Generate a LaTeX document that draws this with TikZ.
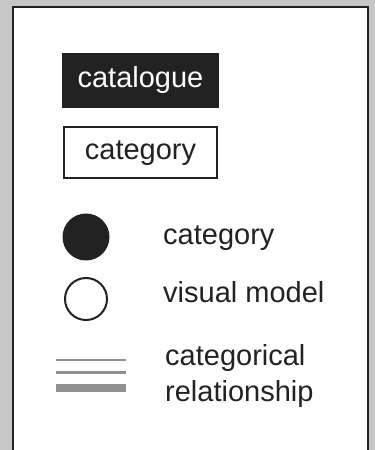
\documentclass[tikz,border=0pt]{standalone}
\usepackage{fontspec}
\setmainfont{Liberation Sans}
\usetikzlibrary{positioning}
\definecolor{ink}{HTML}{222222}
\definecolor{backdrop}{HTML}{C6C6C6}
\definecolor{relgray}{HTML}{909090}

\begin{document}
\begin{tikzpicture}[
    x=1pt, y=1pt,
    font=\fontsize{29}{36}\selectfont,
    box/.style={rectangle, minimum width=157pt, minimum height=55pt, inner sep=0pt, text=ink},
    dot/.style={circle, inner sep=0pt, ink},
    legend/.style={anchor=base west, text=ink, align=left, inner sep=0pt}
]
\useasboundingbox (0,0) rectangle (375,450);

% Panel
\fill[backdrop] (0,0) rectangle (375,450);
\fill[white] (12.5,0) rectangle (368,442.5);
\draw[ink, line width=2pt] (12.5,0) |- (368,442.5) -- (368,0);

% Boxes
\node[box, fill=ink, text=white] (catalogue) at (140.5,369.5) {catalogue};
\node[box, draw=ink, fill=white, line width=2.3pt, minimum width=153pt, minimum height=51pt, below=18pt of catalogue] (category) {category};

% Dots
\node[dot, fill=ink, minimum size=47pt] (catdot) at (86,213) {};
\node[dot, draw=ink, fill=white, line width=2pt, minimum size=42pt] (modeldot) at (86,151) {};

% Legend texts (base is the last line)
\node[legend] (catlabel) at (163,205) {category};
\node[legend] (modellabel) at (163,147) {visual model};
\node[legend] (rellabel) at (165,48) {categorical\\relationship};

% Relationship strokes
\foreach \y/\w in {90/1.3, 77.3/2.6, 62/7.6}
    \draw[relgray, line width=\w pt] (56,\y) -- (126,\y);

\end{tikzpicture}
\end{document}
